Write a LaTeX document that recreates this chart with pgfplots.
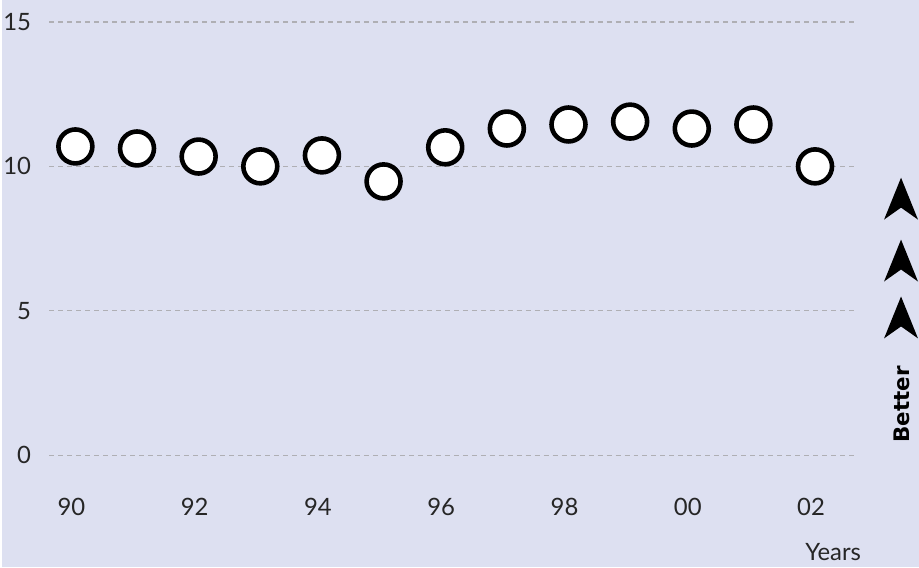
\documentclass[border=0pt]{standalone}
\usepackage{fontspec}
\setmainfont{Lato}
\newfontfamily\betterfont{DejaVu Sans}
\usepackage{pgfplots}
\pgfplotsset{compat=1.18}
\definecolor{bg}{RGB}{221,224,241}
\definecolor{gridgray}{RGB}{175,175,180}

\pgfplotstableread{
x y
0 10.69
1 10.62
2 10.34
3 10.00
4 10.38
5 9.48
6 10.66
7 11.31
8 11.45
9 11.55
10 11.31
11 11.45
12 10.00
}\scores

\begin{document}
\begin{tikzpicture}[x=1bp,y=1bp]
\fill[bg] (0,0) rectangle (919,568);
\begin{axis}[
    at={(48bp,112bp)}, anchor=south west,
    scale only axis,
    width=807bp, height=434bp,
    xmin=-0.42, xmax=12.65,
    ymin=0, ymax=15,
    axis line style={draw=none},
    tick style={draw=none},
    ytick={0,5,10,15},
    xtick={0,2,4,6,8,10,12},
    xticklabels={90,92,94,96,98,00,02},
    ymajorgrids,
    grid style={gridgray, line width=1.2bp, dash pattern=on 5bp off 4bp},
    ticklabel style={font=\fontsize{24}{28}\selectfont, text=black!85},
    /pgf/number format/assume math mode=true,
    yticklabel style={xshift=-15bp},
    xticklabel style={yshift=-40bp, xshift=-4bp},
    clip=false,
]
\addplot[only marks, mark=*, mark size=17bp,
    mark options={draw=black, fill=white, line width=4.6bp}] table {\scores};
\end{axis}
\node[font=\fontsize{24}{28}\selectfont, text=black!85] at (833,15) {Years};
\node[font=\betterfont\bfseries\fontsize{21.5}{24}\selectfont, rotate=90] at (902,163) {Better};
\foreach \t in {390,328,271} {
  \fill[black] (901,\t) -- (918,\t-42) -- (901,\t-30) -- (884,\t-42) -- cycle;
}
\end{tikzpicture}
\end{document}
